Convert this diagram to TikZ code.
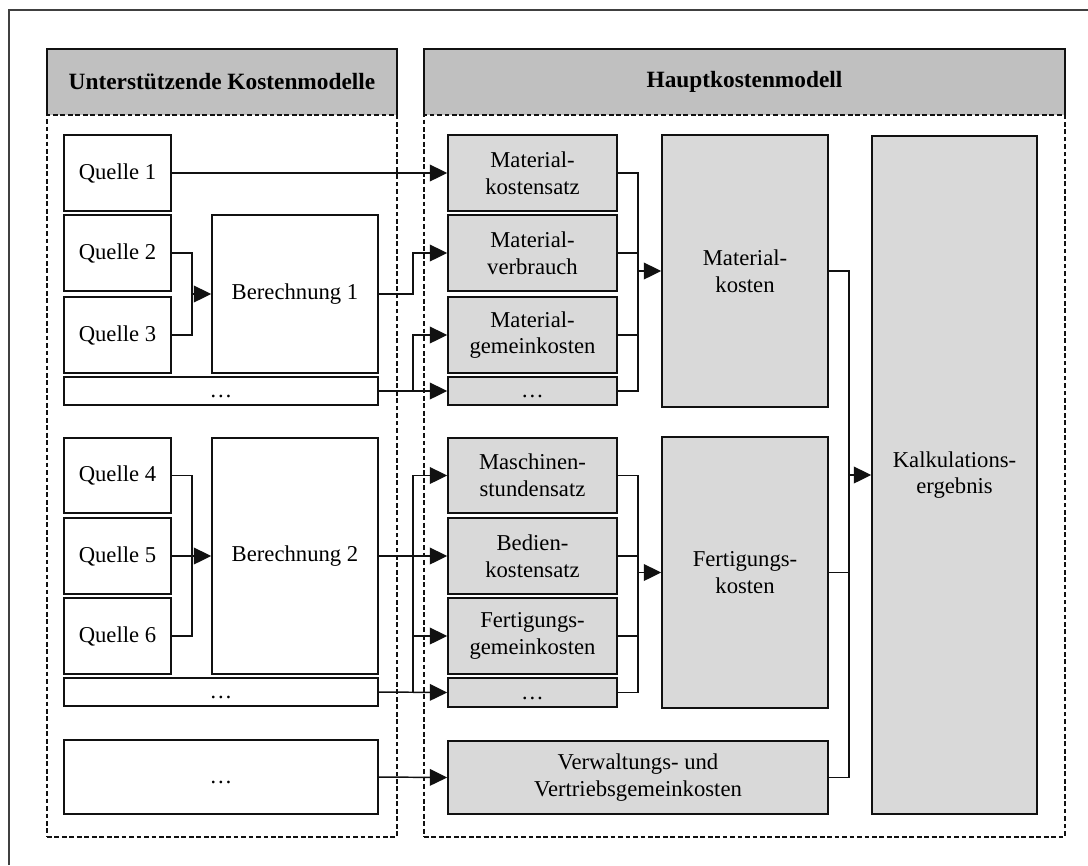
\documentclass[tikz,border=0pt]{standalone}
\usepackage{fontspec}
\setmainfont{Liberation Serif}
\usetikzlibrary{arrows.meta}

\definecolor{headgray}{HTML}{C0C0C0}
\definecolor{boxgray}{HTML}{D9D9D9}
\definecolor{inkline}{HTML}{111111}

% placeholder for the omitted rows
\newcommand{\moredots}{\smash{\raisebox{-5pt}{…}}}

\tikzset{
  % box given by its corners: left/top/right/bottom
  px/.style args={#1/#2/#3/#4}{
    minimum width={(#3-#1)*0.75pt},
    minimum height={(#4-#2)*0.75pt},
    at={({(#1+#3)/2},{(#2+#4)/2})}},
  plainbox/.style={draw=inkline, line width=1.2pt, fill=white, inner sep=0pt,
    align=center, font=\fontsize{17}{20}\selectfont},
  graybox/.style={plainbox, fill=boxgray},
  headbox/.style={fill=headgray, inner sep=0pt,
    font=\fontsize{17.5}{21}\selectfont\bfseries},
  headline/.style={draw=inkline, line width=1.2pt},
  frame/.style={draw=inkline, line width=1pt, dash pattern=on 3.6pt off 2pt},
  link/.style={draw=inkline, line width=1.1pt},
  flow/.style={link, -{Triangle[length=13pt,width=12.5pt]}},
}

\begin{document}
\begin{tikzpicture}[x=0.75pt, y=-0.75pt]
\useasboundingbox (0,0) rectangle (1088,865);

% page frame
\draw[draw=black!75, line width=0.9pt] (9,865) -- (9,10) -- (1088,10);

% column headers
\node[headbox, px=47/49/397/115] (hl) {Unterstützende Kostenmodelle};
\node[headbox, px=424/49/1065/115] (hr) {Hauptkostenmodell};
\draw[headline] (hl.south west) |- (hl.north east) -- (hl.south east);
\draw[headline] (hr.south west) |- (hr.north east) -- (hr.south east);

% dashed column bodies
\node[frame, px=47/115/397/837] (cl) {};
\node[frame, px=424/115/1065/837] (cr) {};

% supporting models
\node[plainbox, px=64/135/171/211] (q1) {Quelle 1};
\node[plainbox, px=64/215/171/291] (q2) {Quelle 2};
\node[plainbox, px=64/297/171/373] (q3) {Quelle 3};
\node[plainbox, px=212/215/378/373] (b1) {Berechnung 1};
\node[plainbox, px=64/377/378/405] (d1) {\moredots};
\node[plainbox, px=64/438/171/513] (q4) {Quelle 4};
\node[plainbox, px=64/518/171/594] (q5) {Quelle 5};
\node[plainbox, px=64/598/171/674] (q6) {Quelle 6};
\node[plainbox, px=212/438/378/674] (b2) {Berechnung 2};
\node[plainbox, px=64/678/378/706] (d2) {\moredots};
\node[plainbox, px=64/740/378/814] (d3) {\moredots};

% main model
\node[graybox, px=448/135/617/211] (m1) {Material-\\kostensatz};
\node[graybox, px=448/215/617/291] (m2) {Material-\\verbrauch};
\node[graybox, px=448/297/617/373] (m3) {Material-\\gemeinkosten};
\node[graybox, px=448/377/617/405] (m4) {\moredots};
\node[graybox, px=662/135/828/407] (mk) {Material-\\kosten};
\node[graybox, px=448/438/617/513] (f1) {Maschinen-\\stundensatz};
\node[graybox, px=448/518/617/594] (f2) {Bedien-\\kostensatz};
\node[graybox, px=448/598/617/674] (f3) {Fertigungs-\\gemeinkosten};
\node[graybox, px=448/678/617/707] (f4) {\moredots};
\node[graybox, px=662/437/828/708] (fk) {Fertigungs-\\kosten};
\node[graybox, px=448/741/828/814] (vv) {Verwaltungs- und\\Vertriebsgemeinkosten};
\node[graybox, px=872/136/1037/814] (ke) {Kalkulations-\\ergebnis};

% bus positions
\coordinate (xa) at (192,0);
\coordinate (xb) at (413,0);
\coordinate (xc) at (638,0);
\coordinate (xd) at (849,0);

% sources into calculations
\draw[link] (q2.east) -| (xa |- q3.east) -- (q3.east);
\draw[flow] (xa |- b1.west) -- (b1.west);
\draw[link] (q4.east) -| (xa |- q6.east) -- (q6.east);
\draw[flow] (q5.east) -- (b2.west);

% supporting models into main model
\draw[flow] (q1.east) -- (m1.west);
\draw[flow] (b1.east) -- (xb |- b1.east) |- (m2.west);
\draw[flow] (d1.east) -- (m4.west);
\draw[flow] (xb |- d1.east) |- (m3.west);
\draw[flow] (b2.east) -- (f2.west);
\draw[flow] (d2.east) -- (f4.west);
\draw[flow] (xb |- d2.east) |- (f1.west);
\draw[flow] (xb |- f3.west) -- (f3.west);
\draw[flow] (d3.east) -- (vv.west);

% material cost components
\draw[link] (m1.east) -| (xc |- m4.east) -- (m4.east);
\draw[link] (m2.east) -- (xc |- m2.east);
\draw[link] (m3.east) -- (xc |- m3.east);
\draw[flow] (xc |- mk.west) -- (mk.west);

% production cost components
\draw[link] (f1.east) -| (xc |- f4.east) -- (f4.east);
\draw[link] (f2.east) -- (xc |- f2.east);
\draw[link] (f3.east) -- (xc |- f3.east);
\draw[flow] (xc |- fk.west) -- (fk.west);

% totals into the result
\draw[link] (mk.east) -| (xd |- vv.east) -- (vv.east);
\draw[link] (fk.east) -- (xd |- fk.east);
\draw[flow] (xd |- ke.west) -- (ke.west);
\end{tikzpicture}
\end{document}
